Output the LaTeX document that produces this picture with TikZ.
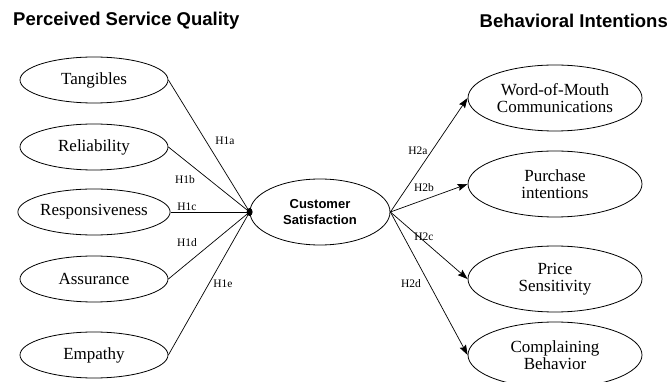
\documentclass[tikz,border=0pt]{standalone}
\usepackage{fontspec}
\setmainfont{Liberation Serif}
\newfontfamily\hv{Liberation Sans}
\usetikzlibrary{shapes.geometric,arrows.meta}
\begin{document}
\begin{tikzpicture}[x=1pt,y=-1pt,
  lbox/.style={ellipse,draw,line width=0.8pt,minimum width=148pt,minimum height=46pt,inner sep=0pt,font=\fontsize{17}{17}\selectfont},
  rbox/.style={ellipse,draw,line width=0.8pt,minimum width=174pt,minimum height=66pt,inner sep=0pt,align=center,font=\fontsize{17}{16.5}\selectfont},
  cbox/.style={ellipse,draw,line width=0.8pt,minimum width=140pt,minimum height=66pt,inner sep=0pt,align=center,font=\hv\bfseries\fontsize{13}{16}\selectfont},
  lab/.style={font=\fontsize{11.5}{12}\selectfont,inner sep=1pt},
  ttl/.style={font=\hv\bfseries\fontsize{18.5}{20}\selectfont,inner sep=0pt},
  inl/.style={line width=0.7pt},
  outa/.style={line width=0.7pt,-{Stealth[length=10pt,width=7pt,inset=1.5pt]}}]
\useasboundingbox (0,0) rectangle (670,382);
\node[ttl,anchor=west] (t1) at (13,21) {Perceived Service Quality};
\node[ttl,anchor=east] (t2) at (668,21) {Behavioral Intentions};
\node[lbox] (tan) at (94,80) {Tangibles};
\node[lbox] (rel) at (94,147) {Reliability};
\node[lbox] (res) at (94,212) {Responsiveness};
\node[lbox] (ass) at (94,279) {Assurance};
\node[lbox] (emp) at (94,355) {Empathy};
\node[cbox] (cs) at (320,212) {Customer\\Satisfaction};
\node[rbox] (wom) at (555,98) {Word-of-Mouth\\Communications};
\node[rbox] (pur) at (555,184) {Purchase\\intentions};
\node[rbox] (pri) at (555,279) {Price\\Sensitivity};
\node[rbox] (com) at (555,355) {Complaining\\Behavior};
\foreach \n in {tan,rel,res,ass,emp} \draw[inl] (\n.east) -- (cs.west);
\fill (cs.west) ellipse (3pt and 4pt);
\draw[outa] (cs.east) -- (wom.west);
\draw[outa] (cs.east) -- (pur.west);
\draw[outa] (cs.east) -- (pri.west);
\draw[outa] (cs.east) -- (com.west);
\node[lab] (h1a) at (225,141) {H1a};
\node[lab] (h1b) at (185,180) {H1b};
\node[lab] (h1c) at (187,207) {H1c};
\node[lab] (h1d) at (187,243) {H1d};
\node[lab] (h1e) at (223,284) {H1e};
\node[lab] (h2a) at (418,151) {H2a};
\node[lab] (h2b) at (424,188) {H2b};
\node[lab] (h2c) at (424,237) {H2c};
\node[lab] (h2d) at (411,284) {H2d};
\end{tikzpicture}
\end{document}
